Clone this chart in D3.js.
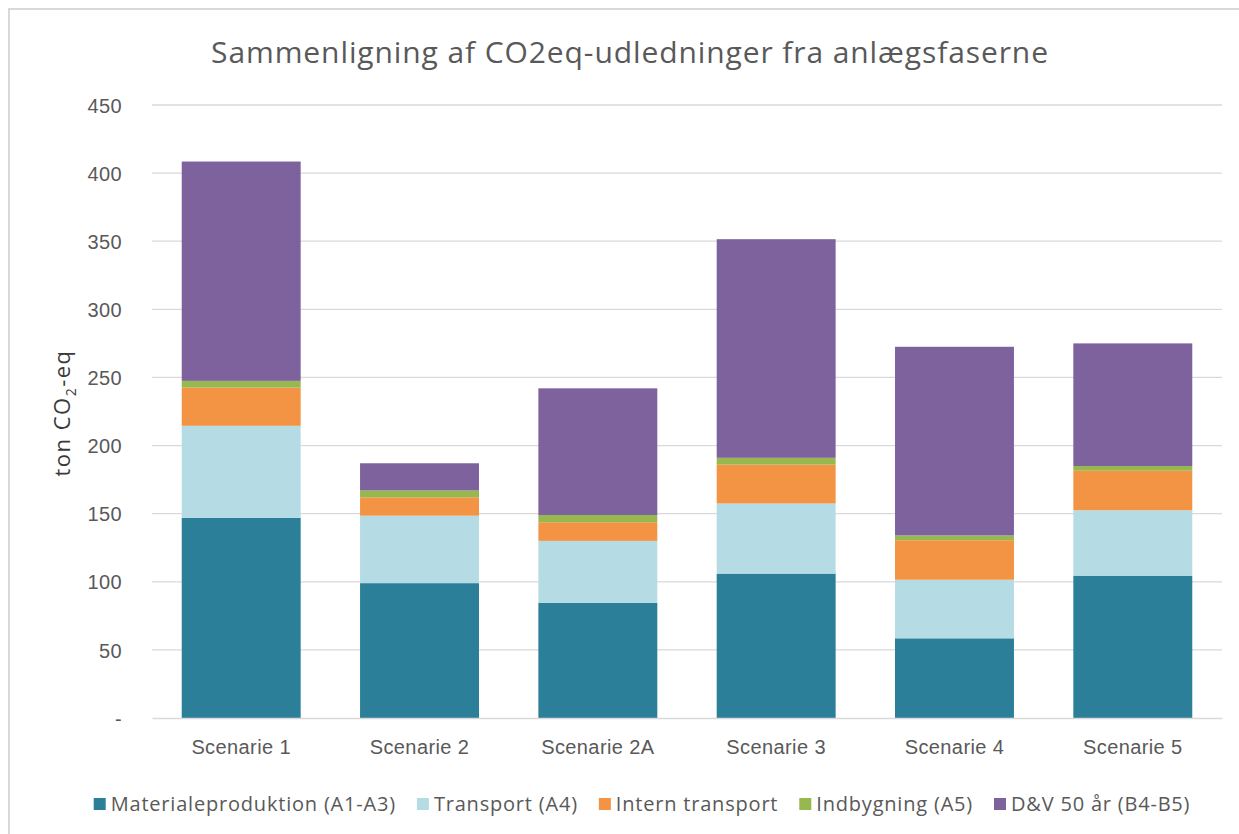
<!DOCTYPE html>
<html>
<head>
<meta charset="utf-8">
<script src="https://cdn.jsdelivr.net/npm/d3@7"></script>
<style>
  body { margin: 0; background: #fff; }
  svg { display: block; font-family: "Open Sans", "Noto Sans", sans-serif; }
</style>
</head>
<body>
<div id="chart"></div>
<script>
const width = 1239;
const height = 834;
const margin = {top: 105, right: 17, bottom: 116, left: 152};

// Chart data
const scenarios = ["Scenarie 1", "Scenarie 2", "Scenarie 2A", "Scenarie 3", "Scenarie 4", "Scenarie 5"];
const seriesNames = ["Materialeproduktion (A1-A3)", "Transport (A4)", "Intern transport", "Indbygning (A5)", "D&V 50 år (B4-B5)"];
const seriesColors = ["#2b7f99", "#b5dce5", "#f39444", "#97b84f", "#7e629e"];
const materiale = [147, 99, 84.5, 106, 58.5, 104.5];
const transport = [67.5, 49.5, 45.5, 51.5, 43, 48];
const internTransport = [28, 13.5, 13.7, 28.5, 29, 29];
const indbygning = [5, 5, 5.3, 5, 3.5, 3.5];
const drift = [161, 20, 93, 160.5, 138.5, 90];
const yTicks = [0, 50, 100, 150, 200, 250, 300, 350, 400, 450];

const seriesValues = [materiale, transport, internTransport, indbygning, drift];
const keys = seriesNames.map((d, i) => "s" + i);
const rows = scenarios.map((s, j) => {
    const row = {scenario: s};
    keys.forEach((k, i) => row[k] = seriesValues[i][j]);
    return row;
});

const svg = d3.select("#chart")
    .append("svg")
    .attr("width", width)
    .attr("height", height);

// Chart frame (light border on top and left)
svg.append("rect")
    .attr("x", 9).attr("y", 9)
    .attr("width", width + 20).attr("height", height + 20)
    .attr("fill", "#fff")
    .attr("stroke", "#d9d9d9")
    .attr("stroke-width", 2);

const innerW = width - margin.left - margin.right;
const innerH = height - margin.top - margin.bottom;

const x = d3.scaleBand()
    .domain(scenarios)
    .range([margin.left, margin.left + innerW])
    .paddingInner(0.333)
    .paddingOuter(0.1667);

const y = d3.scaleLinear()
    .domain([0, 450])
    .range([margin.top + innerH, margin.top]);

// Gridlines
svg.append("g")
    .selectAll("line")
    .data(yTicks.filter(d => d > 0))
    .join("line")
    .attr("x1", margin.left)
    .attr("x2", margin.left + innerW)
    .attr("y1", d => y(d))
    .attr("y2", d => y(d))
    .attr("stroke", "#d9d9d9")
    .attr("stroke-width", 1.3);

// Y axis labels
const yAxis = svg.append("g")
    .attr("transform", `translate(${margin.left},0)`)
    .call(d3.axisLeft(y).tickValues(yTicks).tickSize(0).tickPadding(30)
        .tickFormat(d => d === 0 ? "-" : d));
yAxis.select(".domain").remove();
yAxis.selectAll("text")
    .attr("fill", "#595959")
    .attr("dy", "0.36em")
    .style("font-size", "20px")
    .style("letter-spacing", "0.4px");

// Stacked bars
const stack = d3.stack().keys(keys)(rows);
svg.append("g")
    .selectAll("g")
    .data(stack)
    .join("g")
    .attr("fill", (d, i) => seriesColors[i])
    .selectAll("rect")
    .data(d => d)
    .join("rect")
    .attr("x", d => x(d.data.scenario))
    .attr("width", x.bandwidth())
    .attr("y", d => y(d[1]))
    .attr("height", d => y(d[0]) - y(d[1]));

// X axis
const xAxis = svg.append("g")
    .attr("transform", `translate(0,${margin.top + innerH})`)
    .call(d3.axisBottom(x).tickSize(0).tickPadding(22));
xAxis.select(".domain")
    .attr("stroke", "#d9d9d9")
    .attr("stroke-width", 1.5);
xAxis.selectAll("text")
    .attr("fill", "#595959")
    .style("font-size", "20px")
    .style("letter-spacing", "0.4px");

// Title
svg.append("text")
    .attr("x", 630)
    .attr("y", 63)
    .attr("text-anchor", "middle")
    .attr("fill", "#595959")
    .style("font-size", "30px")
    .style("letter-spacing", "0.9px")
    .text("Sammenligning af CO2eq-udledninger fra anlægsfaserne");

// Y axis title
const yTitle = svg.append("text")
    .attr("transform", "translate(70,413) rotate(-90)")
    .attr("text-anchor", "middle")
    .attr("fill", "#3a3a3a")
    .style("font-size", "22px")
    .style("font-weight", "500")
    .style("letter-spacing", "1.5px");
yTitle.append("tspan").text("ton CO");
yTitle.append("tspan").attr("dy", 6).style("font-size", "14px").text("2");
yTitle.append("tspan").attr("dy", -6).text("-eq");

// Legend
const legend = svg.append("g");
const items = legend.selectAll("g")
    .data(seriesNames)
    .join("g");
items.append("rect")
    .attr("width", 12).attr("height", 12)
    .attr("y", -13)
    .attr("fill", (d, i) => seriesColors[i]);
items.append("text")
    .attr("x", 17)
    .attr("y", 0)
    .attr("fill", "#595959")
    .style("font-size", "20px")
    .style("letter-spacing", "0.8px")
    .text(d => d);
let lx = 0;
items.each(function() {
    const w = this.getBBox().width;
    d3.select(this).attr("transform", `translate(${lx},0)`);
    lx += w + 21;
});
lx -= 21;
legend.attr("transform", `translate(${642 - lx / 2},811)`);
</script>
</body>
</html>
